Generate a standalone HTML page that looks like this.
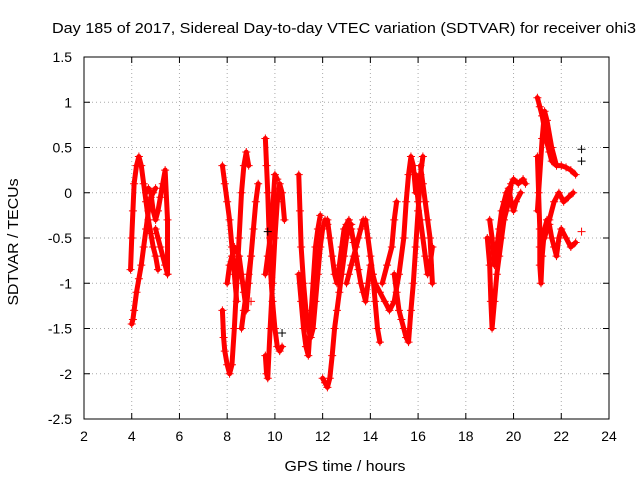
<!DOCTYPE html>
<html><head><meta charset="utf-8"><style>
body{margin:0;background:#fff}
svg{font-family:"Liberation Sans",sans-serif;font-size:13px}
</style></head><body>
<svg id="c" width="640" height="480">
<text x="344" y="33" text-anchor="middle" font-size="15" textLength="584" lengthAdjust="spacingAndGlyphs">Day 185 of 2017, Sidereal Day-to-day VTEC variation (SDTVAR) for receiver ohi3</text>
<text x="0" y="0" transform="translate(18,242) rotate(-90)" text-anchor="middle" font-size="15" textLength="127" lengthAdjust="spacingAndGlyphs">SDTVAR / TECUs</text>
<text x="345" y="471" text-anchor="middle" font-size="15" textLength="121" lengthAdjust="spacingAndGlyphs">GPS time / hours</text>
<g id="grid"></g><g id="marks"></g><g id="axes"></g>
</svg>
<script>
const xTicks=[2,4,6,8,10,12,14,16,18,20,22,24];
const yTicks=[1.5,1,0.5,0,-0.5,-1,-1.5,-2,-2.5];
const yTickLabels=["1.5","1","0.5","0","-0.5","-1","-1.5","-2","-2.5"];
const tracks=[
[[4.0,-1.45],[4.05,-1.4],[4.1,-1.3],[4.2,-1.1],[4.3,-0.95],[4.4,-0.8],[4.5,-0.6],[4.6,-0.4],[4.7,-0.2],[4.8,-0.05],[4.9,0.0],[5.0,0.05]],
[[3.95,-0.85],[4.0,-0.5],[4.05,-0.2],[4.1,0.1],[4.2,0.3],[4.3,0.4],[4.4,0.3],[4.5,0.1],[4.6,-0.1],[4.7,-0.3],[4.8,-0.45],[4.9,-0.6],[5.0,-0.7],[5.1,-0.85]],
[[4.6,0.0],[4.7,0.05],[4.8,0.0],[4.9,-0.2],[5.0,-0.3],[5.1,-0.2],[5.2,-0.05],[5.3,0.1],[5.4,0.25],[5.5,-0.3],[5.5,-0.9]],
[[5.0,-0.4],[5.1,-0.5],[5.2,-0.6],[5.3,-0.7],[5.4,-0.8],[5.5,-0.9]],
[[7.8,0.3],[7.9,0.1],[8.0,-0.1],[8.1,-0.3],[8.2,-0.6],[8.3,-0.9],[8.4,-1.2]],
[[7.8,-1.3],[7.85,-1.6],[7.9,-1.75],[8.0,-1.9],[8.1,-2.0],[8.2,-1.9],[8.3,-1.5],[8.4,-1.0],[8.5,-0.5],[8.6,0.0],[8.7,0.3],[8.8,0.45],[8.9,0.3]],
[[8.0,-1.0],[8.1,-0.8],[8.2,-0.7],[8.3,-0.6],[8.5,-0.7],[8.6,-0.9],[8.7,-1.1],[8.8,-1.3],[8.9,-1.0],[9.0,-0.7],[9.1,-0.4],[9.2,-0.1],[9.3,0.1]],
[[8.6,-1.5],[8.7,-1.3],[8.8,-1.1],[8.9,-0.9],[9.0,-0.7]],
[[9.6,0.6],[9.65,0.3],[9.7,0.0],[9.75,-0.4],[9.8,-0.8],[9.9,-1.2],[10.0,-1.5],[10.1,-1.7],[10.2,-1.75],[10.3,-1.7]],
[[9.6,-1.8],[9.65,-2.0],[9.7,-2.05],[9.8,-1.5],[9.9,-1.0],[10.0,-0.5],[10.1,-0.1],[10.2,0.1],[10.3,0.0],[10.4,-0.3]],
[[9.6,-0.9],[9.7,-0.7],[9.8,-0.5],[9.9,-0.2],[10.0,0.2],[10.1,0.15]],
[[11.0,0.2],[11.05,-0.2],[11.1,-0.6],[11.2,-1.0],[11.3,-1.3],[11.4,-1.5],[11.5,-1.6],[11.6,-1.5],[11.7,-1.2],[11.8,-0.9],[11.9,-0.6],[12.0,-0.4],[12.1,-0.3],[12.2,-0.35]],
[[11.0,-0.9],[11.1,-1.2],[11.2,-1.5],[11.3,-1.7],[11.4,-1.8],[11.5,-1.4],[11.6,-1.0],[11.7,-0.6],[11.8,-0.4],[11.9,-0.25]],
[[12.0,-2.05],[12.1,-2.1],[12.2,-2.15],[12.3,-2.05],[12.4,-1.8],[12.5,-1.5],[12.6,-1.3],[12.7,-1.1],[12.8,-0.9],[12.9,-0.7],[13.0,-0.5],[13.1,-0.4],[13.2,-0.35]],
[[12.2,-0.3],[12.3,-0.5],[12.4,-0.7],[12.5,-0.9],[12.6,-1.0],[12.7,-0.8],[12.8,-0.6],[12.9,-0.4],[13.0,-0.35],[13.1,-0.3]],
[[13.0,-1.0],[13.1,-0.9],[13.2,-0.8],[13.3,-0.7],[13.4,-0.6],[13.5,-0.5],[13.6,-0.4],[13.7,-0.3]],
[[13.2,-0.4],[13.3,-0.55],[13.4,-0.7],[13.5,-0.85],[13.6,-1.0],[13.7,-1.1],[13.8,-1.2],[13.9,-1.0],[14.0,-0.8],[14.1,-0.9],[14.2,-1.2],[14.3,-1.5],[14.4,-1.65]],
[[13.8,-0.3],[13.9,-0.5],[14.0,-0.7],[14.1,-0.9],[14.2,-1.0],[14.4,-1.1],[14.6,-1.2],[14.8,-1.3],[15.0,-1.2],[15.2,-0.9],[15.4,-0.5],[15.5,-0.1],[15.6,0.2],[15.7,0.4],[15.8,0.3],[15.9,0.0]],
[[14.5,-1.0],[14.7,-0.8],[14.9,-0.6],[15.0,-0.3],[15.1,-0.1]],
[[15.0,-0.9],[15.1,-1.1],[15.2,-1.3],[15.3,-1.4],[15.4,-1.5],[15.5,-1.6],[15.6,-1.65],[15.7,-1.3],[15.8,-1.0],[15.9,-0.6],[16.0,-0.2],[16.1,0.2],[16.2,0.4]],
[[15.9,0.2],[16.0,-0.1],[16.1,-0.3],[16.2,-0.5],[16.3,-0.7],[16.4,-0.9],[16.5,-0.8],[16.6,-0.6]],
[[16.1,0.3],[16.2,0.1],[16.3,-0.1],[16.4,-0.3],[16.5,-0.5],[16.6,-1.0]],
[[18.9,-0.5],[19.0,-0.8],[19.05,-1.2],[19.1,-1.5],[19.2,-1.2],[19.3,-0.9],[19.4,-0.7],[19.5,-0.5],[19.6,-0.3],[19.7,-0.2],[19.8,-0.1],[19.9,0.1],[20.0,0.15],[20.2,0.1],[20.4,0.15],[20.5,0.1]],
[[19.0,-0.3],[19.1,-0.5],[19.2,-0.8],[19.3,-0.6],[19.4,-0.4],[19.5,-0.2],[19.6,-0.1],[19.7,0.0],[19.8,0.05],[19.9,-0.1],[20.0,-0.2],[20.1,-0.1],[20.3,0.0]],
[[21.0,1.05],[21.1,0.95],[21.2,0.85],[21.3,0.7],[21.4,0.55],[21.5,0.45],[21.6,0.35],[21.8,0.3],[22.0,0.3],[22.2,0.28],[22.4,0.25],[22.6,0.2]],
[[21.0,0.4],[21.05,0.0],[21.1,-0.4],[21.1,-0.8],[21.15,-1.0],[21.2,-0.7],[21.3,-0.4],[21.4,-0.3],[21.5,-0.35],[21.6,-0.5],[21.7,-0.6],[21.8,-0.7],[21.9,-0.5],[22.0,-0.4],[22.2,-0.5],[22.4,-0.6],[22.6,-0.55]],
[[21.1,-0.6],[21.3,-0.5],[21.5,-0.3],[21.7,-0.1],[21.9,0.0],[22.1,-0.1],[22.3,-0.05],[22.5,0.0]],
[[21.0,-0.2],[21.2,0.6],[21.3,0.9],[21.4,0.8],[21.6,0.5],[21.8,0.3]]
];
const blackPoints=[[22.85,0.48],[22.85,0.35],[9.7,-0.43],[10.3,-1.55]];
const redPoints=[[22.85,-0.43],[9.0,-1.2]];
const L=84,R=609,T=57,B=419;
const xs=v=>L+(v-2)/22*(R-L);
const ys=v=>T+(1.5-v)/4*(B-T);
const NS="http://www.w3.org/2000/svg";
function mk(tag,at,parent){const e=document.createElementNS(NS,tag);for(const k in at)e.setAttribute(k,at[k]);document.getElementById(parent).appendChild(e);return e;}
xTicks.forEach((t,i)=>{const x=xs(t);
if(i>0&&i<xTicks.length-1){const g=mk('line',{x1:x,x2:x,y1:T,y2:B,stroke:'#aaa','stroke-dasharray':'1,3'},'grid');}
const tk=mk('path',{d:`M${x},${B}v-6M${x},${T}v6`,stroke:'#000'},'axes');
const tx=mk('text',{x:x,y:B+22,'text-anchor':'middle','font-size':14},'axes');tx.textContent=t;});
yTicks.forEach((t,i)=>{const y=ys(t);
if(i>0&&i<yTicks.length-1){const g=mk('line',{x1:L,x2:R,y1:y,y2:y,stroke:'#aaa','stroke-dasharray':'1,3'},'grid');}
const tk=mk('path',{d:`M${L},${y}h6M${R},${y}h-6`,stroke:'#000'},'axes');
const tx=mk('text',{x:L-12,y:y+5,'text-anchor':'end','font-size':14},'axes');tx.textContent=yTickLabels[i];});
const fr=mk('rect',{x:L,y:T,width:R-L,height:B-T,fill:'none',stroke:'#000'},'axes');

function plus(p,c){const x=xs(p[0]),y=ys(p[1]);const m=mk('path',{d:`M${x-4},${y}h8M${x},${y-4}v8`,stroke:c,'stroke-width':1},'marks');
}
tracks.forEach(tr=>{const pl=mk('polyline',{points:tr.map(p=>xs(p[0])+','+ys(p[1])).join(' '),fill:'none',stroke:'#f00','stroke-width':5,'stroke-linejoin':'round','stroke-linecap':'round'},'marks');

tr.forEach(p=>plus(p,'#f00'));});
blackPoints.forEach(p=>plus(p,'#000'));
redPoints.forEach(p=>plus(p,'#f00'));
</script>
</body></html>
